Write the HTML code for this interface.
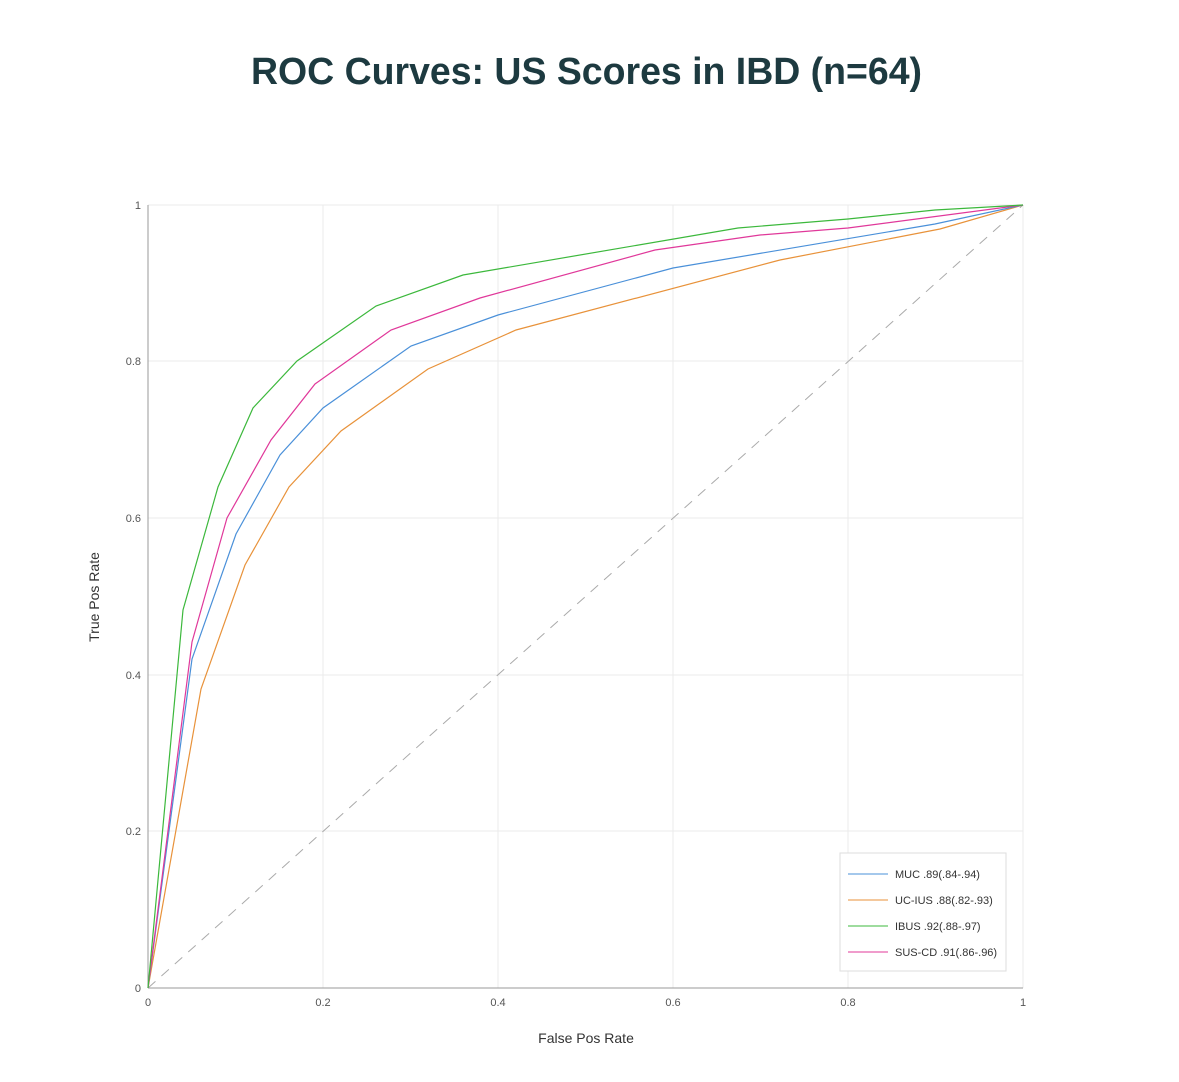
<!DOCTYPE html>
<html><head><style>
body{margin:0;background:#fff;}
svg text{font-family:"Liberation Sans",sans-serif;}
</style></head><body>
<svg width="1179" height="1077" xmlns="http://www.w3.org/2000/svg">
<rect width="1179" height="1077" fill="#fff"/>
<text x="251" y="84" textLength="671" lengthAdjust="spacingAndGlyphs" font-size="38" fill="#1d3a40" font-weight="bold">ROC Curves: US Scores in IBD (n=64)</text>
<g stroke="#ebebeb" stroke-width="1">
<line x1="323" y1="205" x2="323" y2="988"/><line x1="498" y1="205" x2="498" y2="988"/>
<line x1="673" y1="205" x2="673" y2="988"/><line x1="848" y1="205" x2="848" y2="988"/>
<line x1="1023" y1="205" x2="1023" y2="988"/>
<line x1="148" y1="205" x2="1023" y2="205"/><line x1="148" y1="361" x2="1023" y2="361"/>
<line x1="148" y1="518" x2="1023" y2="518"/><line x1="148" y1="675" x2="1023" y2="675"/>
<line x1="148" y1="831" x2="1023" y2="831"/>
</g>
<line x1="148" y1="205" x2="148" y2="988" stroke="#999"/>
<line x1="148" y1="988" x2="1023" y2="988" stroke="#999"/>
<g font-size="11" fill="#555" text-anchor="end">
<text x="141" y="209">1</text><text x="141" y="365">0.8</text><text x="141" y="522">0.6</text>
<text x="141" y="679">0.4</text><text x="141" y="835">0.2</text><text x="141" y="992">0</text>
</g>
<g font-size="11" fill="#555" text-anchor="middle">
<text x="148" y="1006">0</text><text x="323" y="1006">0.2</text><text x="498" y="1006">0.4</text>
<text x="673" y="1006">0.6</text><text x="848" y="1006">0.8</text><text x="1023" y="1006">1</text>
</g>
<text x="586" y="1043" text-anchor="middle" font-size="14" fill="#333">False Pos Rate</text>
<text transform="translate(99,597) rotate(-90)" text-anchor="middle" font-size="14" fill="#333">True Pos Rate</text>
<line x1="148" y1="988" x2="1023" y2="205" stroke="#aaa" stroke-dasharray="10,8"/>
<g fill="none" stroke-width="1.2">
<polyline stroke="#e8923a" points="148,988 201,689 245,565 289,487 341,431 428,369 516,330 780,260 940,229 1023,205"/>
<polyline stroke="#4a90d9" points="148,988 192,659 236,534 280,455 323,408 411,346 498,315 673,268 935,224 1023,205"/>
<polyline stroke="#e0389a" points="148,988 192,642 227,518 271,440 315,384 391,330 480,298 655,250 760,235 848,228 1023,205"/>
<polyline stroke="#3cb83c" points="148,988 183,610 218,487 253,408 297,361 376,306 463,275 738,228 848,219 935,210 1023,205"/>
</g>
<rect x="840" y="853" width="166" height="118" fill="#fff" stroke="#ddd"/>
<g font-size="11" fill="#333">
<line x1="848" y1="874" x2="888" y2="874" stroke="#4a90d9"/><text x="895" y="878">MUC .89(.84-.94)</text>
<line x1="848" y1="900" x2="888" y2="900" stroke="#e8923a"/><text x="895" y="904">UC-IUS .88(.82-.93)</text>
<line x1="848" y1="926" x2="888" y2="926" stroke="#3cb83c"/><text x="895" y="930">IBUS .92(.88-.97)</text>
<line x1="848" y1="952" x2="888" y2="952" stroke="#e0389a"/><text x="895" y="956">SUS-CD .91(.86-.96)</text>
</g>
</svg>
</body></html>
